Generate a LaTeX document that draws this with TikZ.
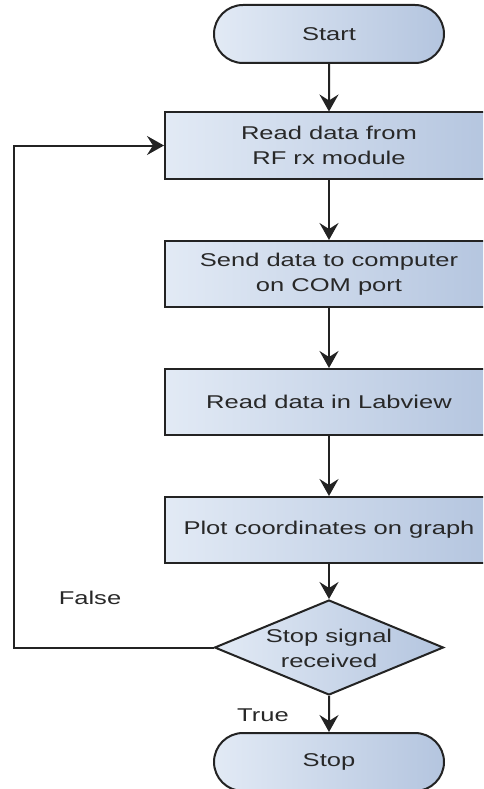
\documentclass[tikz,border=0pt]{standalone}
\usepackage{fontspec}
\setmainfont[FakeStretch=1.38]{Liberation Sans}
\usetikzlibrary{shapes.geometric,shapes.misc,arrows.meta}
\definecolor{fillL}{RGB}{226,234,245}
\definecolor{fillR}{RGB}{180,197,223}
\definecolor{edge}{RGB}{35,35,35}
\definecolor{txt}{RGB}{40,40,40}
\begin{document}
\begin{tikzpicture}[x=1pt,y=-1pt,
  every node/.style={font=\fontsize{18.5}{25}\selectfont, text=txt},
  procbox/.style={rectangle, draw=edge, line width=2pt, left color=fillL, right color=fillR,
    minimum width=328pt, minimum height=66pt, align=center, inner sep=0pt},
  termbox/.style={rounded rectangle, draw=edge, line width=2pt, left color=fillL, right color=fillR,
    minimum width=230pt, minimum height=58pt, inner sep=0pt},
  decbox/.style={diamond, draw=edge, line width=2pt, left color=fillL, right color=fillR,
    minimum width=229pt, minimum height=95pt, inner sep=0pt},
  flow/.style={draw=edge, line width=2pt, -{Stealth[length=17pt,width=19pt,inset=6pt]}},
  lbl/.style={inner sep=0pt}]
\useasboundingbox (0,0) rectangle (483,789);
\clip (0,0) rectangle (483,789);

\node[termbox] (start) at (329,34) {Start};
\node[procbox] (b1) at (329,145.5) {Read data from\\RF rx module};
\node[procbox] (b2) at (329,274) {Send data to computer\\on COM port};
\node[procbox] (b3) at (329,402) {Read data in Labview};
\node[procbox] (b4) at (329,530) {Plot coordinates on graph};
\node[decbox] (dec) at (329,647.5) {};
\node[align=center, inner sep=0pt] (dtext) at (329,648) {Stop signal\\received};
\node[termbox] (stop) at (329,762) {Stop};

\coordinate (c1) at (14,647.5);
\coordinate (c2) at (14,145.5);

\draw[flow] (start) -- (b1);
\draw[flow] (b1) -- (b2);
\draw[flow] (b2) -- (b3);
\draw[flow] (b3) -- (b4);
\draw[flow] (b4) -- (dec);
\draw[flow] (dec) -- (stop);
\draw[flow] (dec.west) -- (c1) -- (c2) -- (b1.west);

\node[lbl] (false) at (90,598) {False};
\node[lbl] (true) at (263,715) {True};
\end{tikzpicture}
\end{document}
